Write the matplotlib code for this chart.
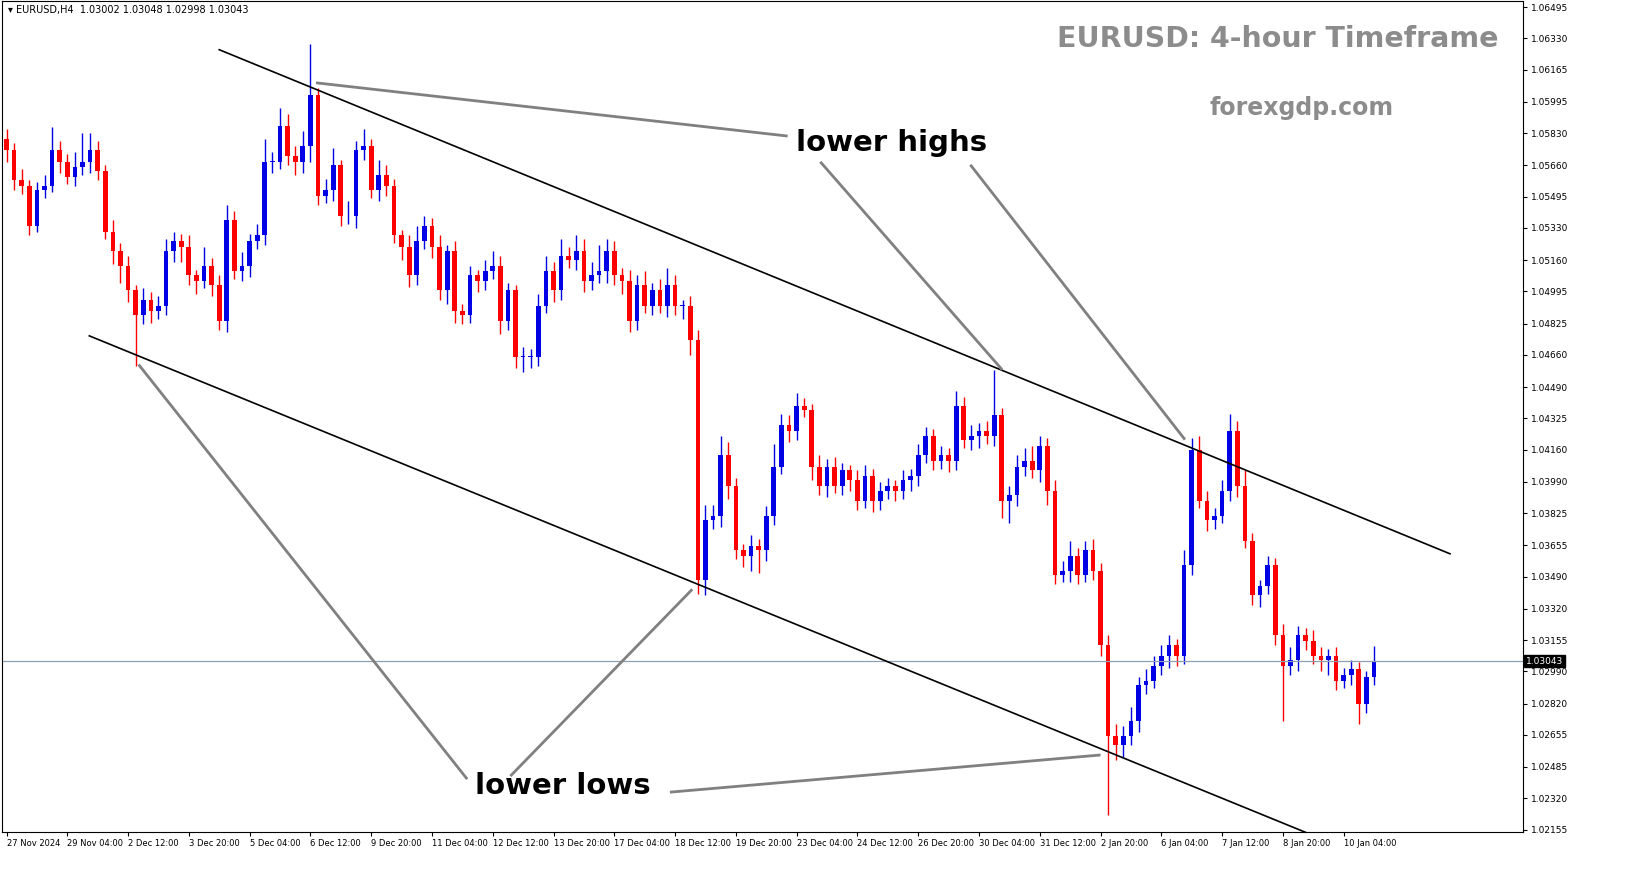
import matplotlib
matplotlib.use("Agg")
import matplotlib.pyplot as plt
import numpy as np

closes = [1.0574,1.0558,1.0555,1.0534,1.0553,1.0555,1.0574,1.0568,1.0560,1.0565,
1.0568,1.0574,1.0563,1.0531,1.0521,1.0513,1.0500,1.0487,1.0495,1.0489,
1.0492,1.0521,1.0526,1.0523,1.0508,1.0505,1.0513,1.0503,1.0484,1.0537,
1.0510,1.0513,1.0526,1.0529,1.0568,1.0568,1.0587,1.0571,1.0568,1.0576,
1.0603,1.0550,1.0553,1.0566,1.0539,1.0539,1.0574,1.0576,1.0553,1.0561,
1.0555,1.0529,1.0523,1.0508,1.0526,1.0534,1.0523,1.0500,1.0521,1.0489,
1.0487,1.0508,1.0505,1.0510,1.0513,1.0484,1.0500,1.0465,1.0465,1.0465,
1.0492,1.0510,1.0500,1.0518,1.0516,1.0521,1.0505,1.0508,1.0510,1.0521,
1.0508,1.0505,1.0484,1.0503,1.0492,1.0500,1.0492,1.0503,1.0492,1.0492,
1.0474,1.0347,1.0379,1.0381,1.0413,1.0397,1.0363,1.0360,1.0365,1.0363,
1.0381,1.0407,1.0429,1.0426,1.0439,1.0437,1.0407,1.0397,1.0407,1.0397,
1.0405,1.0400,1.0389,1.0402,1.0389,1.0394,1.0397,1.0394,1.0400,1.0402,
1.0413,1.0423,1.0410,1.0413,1.0410,1.0439,1.0421,1.0423,1.0426,1.0423,
1.0434,1.0389,1.0392,1.0407,1.0410,1.0405,1.0418,1.0394,1.0350,1.0352,
1.0360,1.0350,1.0363,1.0352,1.0313,1.0265,1.0260,1.0265,1.0273,1.0292,
1.0294,1.0302,1.0307,1.0313,1.0307,1.0355,1.0416,1.0389,1.0379,1.0381,
1.0394,1.0426,1.0397,1.0368,1.0339,1.0344,1.0355,1.0318,1.0302,1.0305,
1.0318,1.0315,1.0307,1.0305,1.0307,1.0294,1.0297,1.0300,1.0282,1.0296,1.03043]
first_open = 1.0580
# wick lengths in pips
up_wick = [5,4,6,3,4,6,12,5,4,8,15,9,5,3,6,4,5,3,6,4,
5,6,5,4,6,3,10,4,5,8,5,7,4,6,12,5,9,6,5,8,
27,4,6,9,3,8,5,9,4,8,5,4,3,6,8,5,4,6,3,5,
4,5,3,6,8,5,4,3,5,4,6,8,5,9,5,8,6,7,14,6,
5,4,6,5,7,4,6,9,5,3,5,5,8,6,10,7,4,3,6,4,
5,12,6,5,7,4,3,6,4,5,4,3,5,6,4,5,4,3,5,4,
6,5,4,5,4,8,5,6,4,5,24,4,5,6,7,8,5,4,6,5,
8,4,5,6,4,5,6,5,7,4,6,5,6,5,3,8,6,7,5,4,
6,9,5,8,4,3,5,4,6,7,5,4,6,5,4,5,4,5,4,3,8]
dn_wick = [6,5,4,5,3,4,3,6,4,5,4,6,5,4,7,9,6,27,5,6,
4,5,6,8,5,7,4,6,5,6,4,5,6,4,5,6,4,5,7,6,
8,5,4,6,5,4,6,5,4,6,5,4,7,6,5,4,6,5,7,6,
5,4,6,5,4,7,5,6,8,6,5,4,6,5,4,5,6,5,4,6,
5,7,6,5,4,5,4,6,5,7,8,7,8,5,6,7,5,6,8,12,
6,5,4,6,5,4,7,5,6,4,5,6,5,4,6,5,4,5,4,6,
5,4,5,4,6,5,4,5,6,4,5,9,12,6,5,4,6,7,5,4,
6,5,4,5,6,42,8,6,5,6,5,4,5,6,5,4,5,4,6,5,
4,5,6,4,5,6,4,5,29,5,6,5,4,6,8,5,4,5,11,5,4]

date_labels = ["27 Nov 2024","29 Nov 04:00","2 Dec 12:00","3 Dec 20:00","5 Dec 04:00",
"6 Dec 12:00","9 Dec 20:00","11 Dec 04:00","12 Dec 12:00","13 Dec 20:00","17 Dec 04:00",
"18 Dec 12:00","19 Dec 20:00","23 Dec 04:00","24 Dec 12:00","26 Dec 20:00","30 Dec 04:00",
"31 Dec 12:00","2 Jan 20:00","6 Jan 04:00","7 Jan 12:00","8 Jan 20:00","10 Jan 04:00"]
price_ticks = [1.06495,1.06330,1.06165,1.05995,1.05830,1.05660,1.05495,1.05330,1.05160,
1.04995,1.04825,1.04660,1.04490,1.04325,1.04160,1.03990,1.03825,1.03655,1.03490,1.03320,
1.03155,1.02990,1.02820,1.02655,1.02485,1.02320,1.02155]
last_price = 1.03043

closes = np.array(closes)
opens = np.concatenate([[first_open], closes[:-1]])
highs = np.maximum(opens, closes) + np.array(up_wick) * 1e-4
lows = np.minimum(opens, closes) - np.array(dn_wick) * 1e-4
idx = np.arange(len(closes))

fig = plt.figure(figsize=(16.31, 8.88), dpi=100)
ax = fig.add_axes([0.0012, 1 - 832/888, 1521/1631, 831/888])
ax.set_xlim(-0.6, 199.6)
ax.set_ylim(1.02142, 1.06527)

BLUE = "#0000e6"; RED = "#ff0000"
for i in idx:
    col = BLUE if closes[i] >= opens[i] else RED
    ax.vlines(i, lows[i], highs[i], color=col, lw=1)
    b = min(opens[i], closes[i]); h = max(abs(closes[i] - opens[i]), 0.00003)
    ax.bar(i, h, bottom=b, width=0.62, color=col, edgecolor=col, lw=0)

ax.axhline(last_price, color="#8fa0b0", lw=0.9)

# channel lines
ax.plot([28.0, 190], [1.0627, 1.0361], color="black", lw=1.2)
ax.plot([10.9, 171], [1.0476, 1.0214], color="black", lw=1.2)

def px(x):
    return (x - 5) / 7.6
def py(y):
    return 1.06495 - (y - 6) * 0.0000527
grey = "#808080"
for (x1, y1, x2, y2) in [(316,82,785,135),(820,162,1000,368),(970,165,1183,438),
                         (138,365,465,778),(510,775,690,590),(670,792,1098,755)]:
    ax.plot([px(x1), px(x2)], [py(y1), py(y2)], color=grey, lw=2)

ax.text(px(795), py(142), "lower highs", fontsize=21, fontweight="bold", va="center", ha="left")
ax.text(px(474), py(786), "lower lows", fontsize=21, fontweight="bold", va="center", ha="left")
ax.text(px(1497), py(38), "EURUSD: 4-hour Timeframe", fontsize=20.5, fontweight="bold",
        color="#8c8c8c", va="center", ha="right")
ax.text(px(1300), py(107), "forexgdp.com", fontsize=17, fontweight="bold",
        color="#8c8c8c", va="center", ha="center")
ax.text(0.004, 0.995, "\u25be EURUSD,H4  1.03002 1.03048 1.02998 1.03043", transform=ax.transAxes,
        fontsize=7, va="top", ha="left")

ax.set_xticks(np.arange(0, 8 * len(date_labels), 8))
ax.set_xticklabels(date_labels, fontsize=6, ha="left")
ax.tick_params(axis="x", length=3, pad=2)
ax.yaxis.tick_right()
ax.set_yticks(price_ticks)
ax.set_yticklabels([f"{p:.5f}" for p in price_ticks], fontsize=6.5)
ax.tick_params(axis="y", length=3, pad=3)
ax.text(1.002, last_price, f"{last_price:.5f}", transform=ax.get_yaxis_transform(),
        fontsize=6.5, color="white", va="center", ha="left",
        bbox=dict(facecolor="black", edgecolor="black", pad=1.2))
for s in ax.spines.values():
    s.set_color("black"); s.set_linewidth(0.8)

fig.savefig("out.png", dpi=100)
